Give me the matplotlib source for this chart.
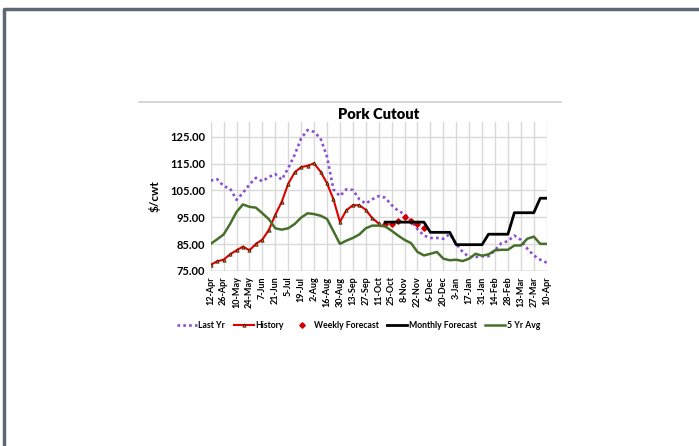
import numpy as np
import matplotlib
matplotlib.use("Agg")
import matplotlib.pyplot as plt
from matplotlib.lines import Line2D

plt.rcParams['font.family'] = ['Lato', 'DejaVu Sans']
plt.rcParams['font.weight'] = 'bold'

# weekly series, 12-Apr through 10-Apr (53 weeks); labels every other week
tick_labels = ['12-Apr', '26-Apr', '10-May', '24-May', '7-Jun', '21-Jun', '5-Jul',
               '19-Jul', '2-Aug', '16-Aug', '30-Aug', '13-Sep', '27-Sep', '11-Oct',
               '25-Oct', '8-Nov', '22-Nov', '6-Dec', '20-Dec', '3-Jan', '17-Jan',
               '31-Jan', '14-Feb', '28-Feb', '13-Mar', '27-Mar', '10-Apr']

last_yr = [108.7, 109.2, 106.6, 105.7, 101.5, 104.1, 107.2, 109.7, 108.4, 110.0,
           111.1, 109.0, 113.3, 118.3, 124.4, 127.5, 126.8, 124.4, 117.6, 105.4,
           102.9, 105.4, 105.2, 101.7, 100.1, 101.7, 102.9, 102.3, 99.6, 97.4,
           96.2, 93.7, 90.6, 88.2, 87.3, 87.3, 87.0, 88.8, 85.1, 82.1,
           80.2, 80.2, 80.5, 80.5, 82.7, 85.4, 86.1, 88.2, 86.6, 83.3,
           80.8, 79.2, 78.1]

history = [77.3, 78.6, 79.2, 81.2, 82.7, 84.1, 82.7, 85.1, 86.7, 90.3,
           95.9, 100.8, 107.5, 111.7, 113.7, 114.2, 115.1, 112.0, 107.7, 101.7,
           93.3, 97.6, 99.5, 99.5, 97.8, 94.7, 92.7]

weekly_start = 27
weekly_forecast = [92.4, 92.5, 93.8, 95.0, 93.8, 92.5, 91.0]

monthly_start = 27
monthly_forecast = [93.2, 93.2, 93.2, 93.2, 93.2, 93.2, 93.2,
                    89.4, 89.4, 89.4, 89.4,
                    84.8, 84.8, 84.8, 84.8, 84.8,
                    88.7, 88.7, 88.7, 88.7,
                    96.7, 96.7, 96.7, 96.7,
                    102.1, 102.1]

five_yr_avg = [85.1, 86.8, 88.6, 92.5, 97.0, 99.8, 98.9, 98.6, 96.5, 94.3,
               90.9, 90.4, 90.9, 92.5, 94.9, 96.5, 96.2, 95.6, 94.4, 89.8,
               85.1, 86.3, 87.3, 88.6, 90.9, 91.9, 91.9, 91.6, 90.0, 88.2,
               86.6, 85.4, 82.1, 80.8, 81.4, 82.1, 79.6, 79.0, 79.2, 78.7,
               79.6, 81.4, 80.7, 81.2, 82.7, 82.9, 82.9, 84.5, 84.5, 87.0,
               87.8, 85.1, 85.1]

weeks = np.arange(len(last_yr))
x_hist = weeks[:len(history)]
x_weekly = weekly_start + np.arange(len(weekly_forecast))
x_monthly = monthly_start + np.arange(len(monthly_forecast))

fig = plt.figure(figsize=(6.99, 4.46), dpi=100)
ax = fig.add_axes([0.3014, 0.3924, 0.4807, 0.3341])

ax.plot(weeks, last_yr, color='#8A4FCF', lw=1.9, ls=(0, (1, 1.2)), label='Last Yr')
ax.plot(x_hist, history, color='#E00000', lw=1.5, marker='^', ms=2.4,
        mfc='#E46C0A', mec='#2a1200', mew=0.5, label='History')
ax.plot(x_weekly, weekly_forecast, ls='none', marker='D', ms=2.8,
        color='#D00000', label='Weekly Forecast')
ax.plot(x_monthly, monthly_forecast, color='black', lw=2, label='Monthly Forecast')
ax.plot(weeks, five_yr_avg, color='#46702A', lw=1.8, label='5 Yr Avg')

ax.set_xlim(0, len(weeks) - 1)
ax.set_ylim(75, 130.5)
ax.set_yticks(np.arange(75, 126, 10))
ax.set_yticklabels(['%.2f' % v for v in np.arange(75, 126, 10)], fontsize=8)
ax.set_xticks(np.arange(0, len(weeks), 2))
ax.set_xticklabels(tick_labels, rotation=90, fontsize=6.5)
ax.tick_params(length=0, pad=4)
ax.grid(True, color='#D9D9D9', lw=1)
ax.set_axisbelow(True)
for s in ax.spines.values():
    s.set_visible(False)
ax.axhline(75, color='#BFBFBF', lw=1, zorder=1)

ax.set_ylabel('$/cwt', fontsize=8.5, fontweight='bold', labelpad=7)
ax.set_title('Pork Cutout', fontsize=10.5, fontweight='heavy', pad=2)

fig.legend(loc='center', bbox_to_anchor=(0.513, 0.271), ncol=5, frameon=False,
           fontsize=6.2, handlelength=2.3, columnspacing=1.0, handletextpad=0.2)

# chart-area top edge and page frame
fig.add_artist(Line2D([139 / 699, 561 / 699], [1 - 102 / 446, 1 - 102 / 446],
                      color='#D0D0D0', lw=1.2))
fig.add_artist(Line2D([4 / 699, 4 / 699, 1], [0, 1 - 9 / 446, 1 - 9 / 446],
                      color='#5E6873', lw=2.5))

fig.savefig('out.png', dpi=100)
